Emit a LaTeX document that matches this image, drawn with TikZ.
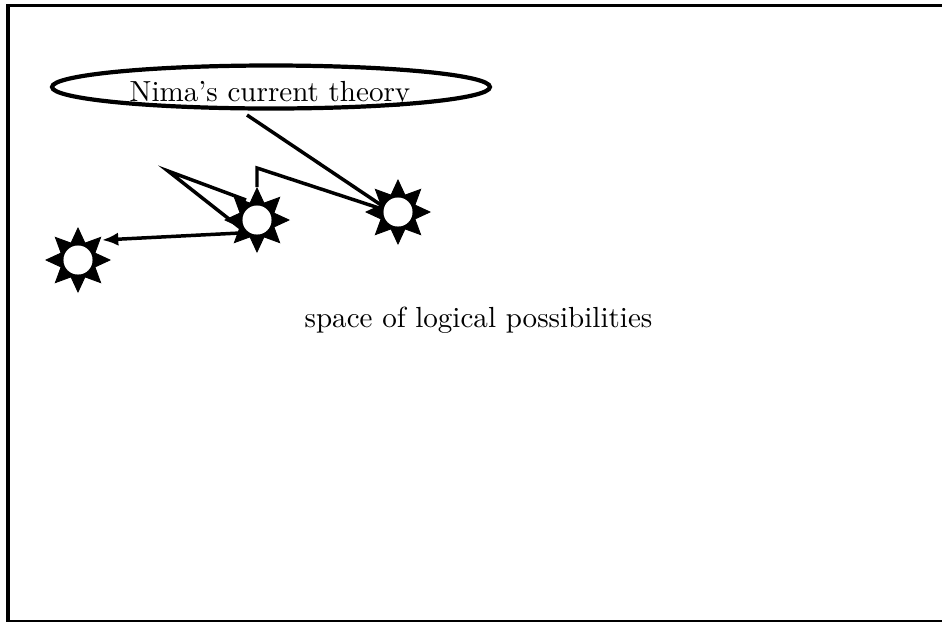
\documentclass[tikz,border=0pt]{standalone}
\usetikzlibrary{shapes.geometric,arrows.meta,calc}
\begin{document}
\begin{tikzpicture}[x=0.3441pt,y=-0.3441pt,
  sun/.style={star, star points=8, star point ratio=1.75, fill=black, draw=black,
    line width=0.3pt, inner sep=0pt, minimum size=22pt},
  hole/.style={circle, fill=white, inner sep=0pt, minimum size=10pt},
  link/.style={line width=1.2pt, line join=miter},
  tip/.style={-{Latex[length=5.6pt,width=4.6pt]}},
]
\path[use as bounding box, clip] (0,0) rectangle (942,621);
% outer frame, open to the right
\draw[line width=1.25pt] (1000,5.5) -- (8,5.5) -- (8,621.5) -- (1000,621.5);

% theory bubble and its label
\node[ellipse, draw, line width=1.45pt, inner sep=0pt,
      minimum width=150.7pt, minimum height=14.8pt] (th) at (271,87) {};
\node[anchor=base, inner sep=0pt] (thl) at (270,101) {Nima's current theory};
\node[anchor=base, inner sep=0pt] (space) at (478.5,327) {space of logical possibilities};

% stars
\node[sun] (s1) at (78,260) {};
\node[hole] (h1) at (s1) {};
\node[sun] (s2) at (257,220) {};
\node[hole] (h2) at (s2) {};
\node[sun] (s3) at (398,212) {};
\node[hole] (h3) at (s3) {};

% free points of the connectors
\coordinate (tA) at (247,115);
\coordinate (bend) at (257,168);
\coordinate (apex) at (168,171);

\draw[link] (tA) -- (h3.160);
\draw[link] (h3.170) -- (bend) -- (s2.north);
\draw[link] ($(s2)+(-11,-20)$) -- (apex) -- ($(s2)+(-14,10)$);
\draw[link,tip] ($(s2)+(-17,13)$) -- ($(s1)+(24,-20)$);
\end{tikzpicture}
\end{document}
